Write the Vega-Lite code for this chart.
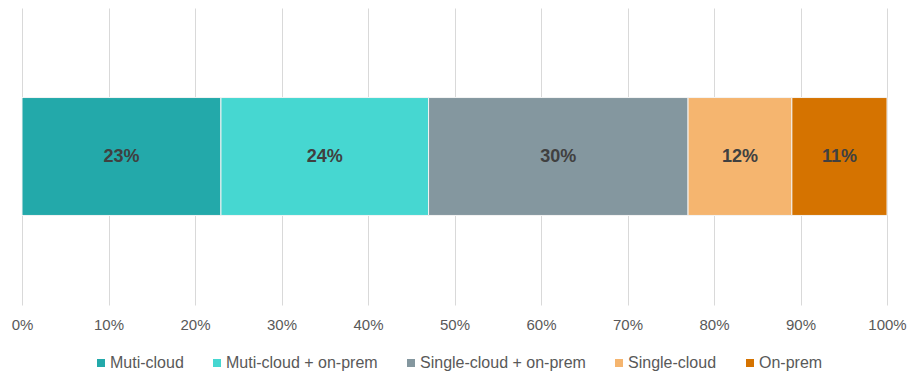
{
  "$schema": "https://vega.github.io/schema/vega-lite/v6.json",
  "width": 865,
  "height": 297,
  "autosize": {"type": "none"},
  "padding": {"left": 22, "top": 8, "right": 23, "bottom": 69},
  "background": "#ffffff",
  "config": {
    "view": {"stroke": null},
    "font": "Liberation Sans"
  },
  "data": {
    "values": [
      {"segment": "Muti-cloud", "rank": 1, "pct": 23, "cat": "all"},
      {"segment": "Muti-cloud + on-prem", "rank": 2, "pct": 24, "cat": "all"},
      {"segment": "Single-cloud + on-prem", "rank": 3, "pct": 30, "cat": "all"},
      {"segment": "Single-cloud", "rank": 4, "pct": 12, "cat": "all"},
      {"segment": "On-prem", "rank": 5, "pct": 11, "cat": "all"}
    ]
  },
  "transform": [
    {"stack": "pct", "groupby": ["cat"], "sort": [{"field": "rank", "order": "ascending"}], "as": ["x0", "x1"]},
    {"calculate": "(datum.x0 + datum.x1) / 2", "as": "mid"},
    {"calculate": "datum.pct + '%'", "as": "label"}
  ],
  "encoding": {
    "y": {"field": "cat", "type": "nominal", "axis": null, "scale": {"paddingInner": 0, "paddingOuter": 0}}
  },
  "layer": [
    {
      "mark": {"type": "bar", "height": {"band": 0.397}, "stroke": "#f4f4f4", "strokeWidth": 1},
      "encoding": {
        "x": {
          "field": "x0", "type": "quantitative",
          "scale": {"domain": [0, 100], "nice": false},
          "axis": {
            "values": [0, 10, 20, 30, 40, 50, 60, 70, 80, 90, 100],
            "labelExpr": "datum.value + '%'",
            "title": null,
            "domain": false,
            "ticks": false,
            "grid": true,
            "gridColor": "#d9d9d9",
            "gridWidth": 1,
            "labelColor": "#595959",
            "labelFontSize": 15,
            "labelPadding": 12,
            "labelFlush": false,
            "labelOverlap": false,
            "labelFont": "Liberation Sans"
          }
        },
        "x2": {"field": "x1"},
        "color": {
          "field": "segment", "type": "nominal",
          "sort": ["Muti-cloud", "Muti-cloud + on-prem", "Single-cloud + on-prem", "Single-cloud", "On-prem"],
          "scale": {
            "domain": ["Muti-cloud", "Muti-cloud + on-prem", "Single-cloud + on-prem", "Single-cloud", "On-prem"],
            "range": ["#23A9AA", "#46D7D1", "#84979F", "#F5B56F", "#D57300"]
          },
          "legend": {
            "title": null,
            "orient": "none",
            "legendX": 71,
            "legendY": 347,
            "padding": 0,
            "direction": "horizontal",
            "symbolType": "square",
            "symbolSize": 64,
            "symbolStrokeWidth": 0,
            "labelColor": "#595959",
            "labelFontSize": 16,
            "labelFont": "Liberation Sans",
            "labelOffset": 1,
            "labelLimit": 0,
            "columnPadding": 25
          }
        }
      }
    },
    {
      "mark": {"type": "text", "fontSize": 18, "fontWeight": "bold", "color": "#404040", "baseline": "middle", "align": "center", "font": "Liberation Sans"},
      "encoding": {
        "x": {"field": "mid", "type": "quantitative"},
        "text": {"field": "label"}
      }
    }
  ]
}
